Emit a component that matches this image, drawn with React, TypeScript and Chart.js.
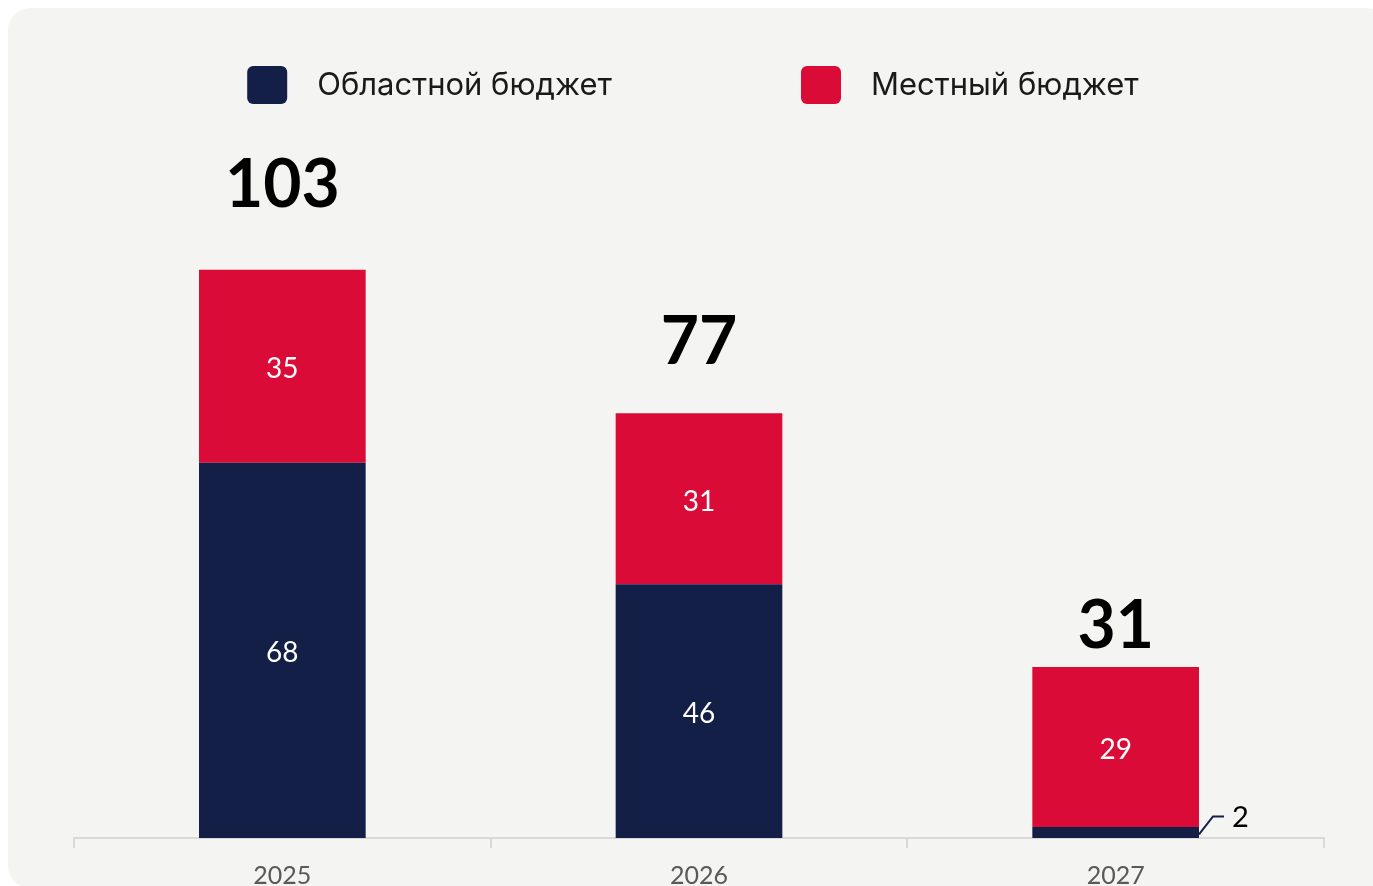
import React, { useEffect, useRef } from "react";
import { Chart, registerables } from "chart.js";

Chart.register(...registerables);

const categories = ["2025", "2026", "2027"];
const regionalBudget = [68, 46, 2];
const localBudget = [35, 31, 29];
const seriesNames = ["Областной бюджет", "Местный бюджет"];
const yMax = 120;

const NAVY = "#141f48";
const RED = "#da0b36";
const BG = "#f4f4f2";
const AXIS = "#d9d9d9";

const labelsPlugin = {
  id: "customLabels",
  afterDatasetsDraw(chart: any, _args: any, opts: any) {
    const ctx = chart.ctx as CanvasRenderingContext2D;
    ctx.save();
    // segment labels
    chart.data.datasets.forEach((ds: any, di: number) => {
      const meta = chart.getDatasetMeta(di);
      meta.data.forEach((el: any, i: number) => {
        const v = ds.data[i];
        const { x, y, base, width } = el.getProps(["x", "y", "base", "width"], true);
        const h = Math.abs(base - y);
        if (h > 30) {
          ctx.fillStyle = "#ffffff";
          ctx.font = "28px Lato";
          ctx.textAlign = "center";
          ctx.textBaseline = "middle";
          ctx.fillText(String(v), x, (y + base) / 2 + 3);
        } else {
          const right = x + width / 2;
          const cy = (y + base) / 2;
          ctx.strokeStyle = ds.backgroundColor;
          ctx.lineWidth = 2;
          ctx.beginPath();
          ctx.moveTo(right, cy + 2);
          ctx.lineTo(right + 14, cy - 16);
          ctx.lineTo(right + 25, cy - 16);
          ctx.stroke();
          ctx.fillStyle = "#000000";
          ctx.font = "29px Lato";
          ctx.textAlign = "left";
          ctx.textBaseline = "middle";
          ctx.fillText(String(v), right + 33, cy - 15);
        }
      });
    });
    // totals
    const lastMeta = chart.getDatasetMeta(chart.data.datasets.length - 1);
    const lifts: number[] = opts.totalLift || [];
    categories.forEach((_c, i) => {
      let total = 0;
      chart.data.datasets.forEach((ds: any) => (total += ds.data[i]));
      const el = lastMeta.data[i];
      ctx.fillStyle = "#000000";
      ctx.font = "bold 66px Lato";
      ctx.textAlign = "center";
      ctx.textBaseline = "middle";
      ctx.fillText(String(total), el.x, el.y - (lifts[i] ?? 60));
    });
    // legend
    ctx.font = "31px Inter";
    ctx.textBaseline = "middle";
    ctx.textAlign = "left";
    const box = 40;
    const gapText = 30;
    const gapItems = 189;
    const widths = chart.data.datasets.map(
      (ds: any) => box + gapText + ctx.measureText(ds.label).width
    );
    const totalW = widths.reduce((a: number, b: number) => a + b, 0) + gapItems * (widths.length - 1);
    const cx = (chart.chartArea.left + chart.chartArea.right) / 2 - 6;
    let lx = cx - totalW / 2;
    const ly = 77;
    chart.data.datasets.forEach((ds: any, di: number) => {
      ctx.fillStyle = ds.backgroundColor;
      ctx.beginPath();
      (ctx as any).roundRect(lx, ly - 19, box, 38, 6);
      ctx.fill();
      ctx.fillStyle = "#1a1a1a";
      ctx.fillText(ds.label, lx + box + gapText, ly + 1);
      lx += widths[di] + gapItems;
    });
    ctx.restore();
  },
};

export default function App() {
  const canvasRef = useRef<HTMLCanvasElement | null>(null);

  useEffect(() => {
    document.documentElement.style.overflow = "hidden";
    const canvas = canvasRef.current;
    if (!canvas) return;
    const chart = new Chart(canvas, {
      type: "bar",
      data: {
        labels: categories,
        datasets: [
          {
            label: seriesNames[0],
            data: regionalBudget,
            backgroundColor: NAVY,
            borderWidth: 0,
            categoryPercentage: 1,
            barPercentage: 0.4,
          },
          {
            label: seriesNames[1],
            data: localBudget,
            backgroundColor: RED,
            borderWidth: 0,
            categoryPercentage: 1,
            barPercentage: 0.4,
          },
        ],
      },
      options: {
        responsive: false,
        animation: false,
        devicePixelRatio: 1,
        layout: { padding: { top: 168, left: 66, right: 49, bottom: 0 } },
        plugins: {
          legend: { display: false },
          tooltip: { enabled: false },
          customLabels: { totalLift: [84, 70, 40] },
        } as any,
        scales: {
          x: {
            stacked: true,
            offset: true,
            border: { display: true, color: AXIS, width: 2 },
            grid: {
              display: true,
              offset: true,
              drawOnChartArea: false,
              drawTicks: true,
              tickLength: 10,
              color: AXIS,
              lineWidth: 2,
            },
            ticks: {
              color: "#595959",
              font: { family: "Lato", size: 25 },
              padding: 13,
            },
            afterFit: (scale: any) => {
              scale.height = 50;
            },
          },
          y: {
            stacked: true,
            display: false,
            min: 0,
            max: yMax,
          },
        },
      },
      plugins: [labelsPlugin],
    });
    return () => chart.destroy();
  }, []);

  return (
    <div
      style={{
        position: "fixed",
        left: 8,
        top: 8,
        width: 1380,
        height: 880,
        background: BG,
        borderRadius: 22,
        overflow: "hidden",
      }}
    >
      <canvas ref={canvasRef} width={1365} height={880} style={{ display: "block", width: 1365, height: 880 }} />
    </div>
  );
}
